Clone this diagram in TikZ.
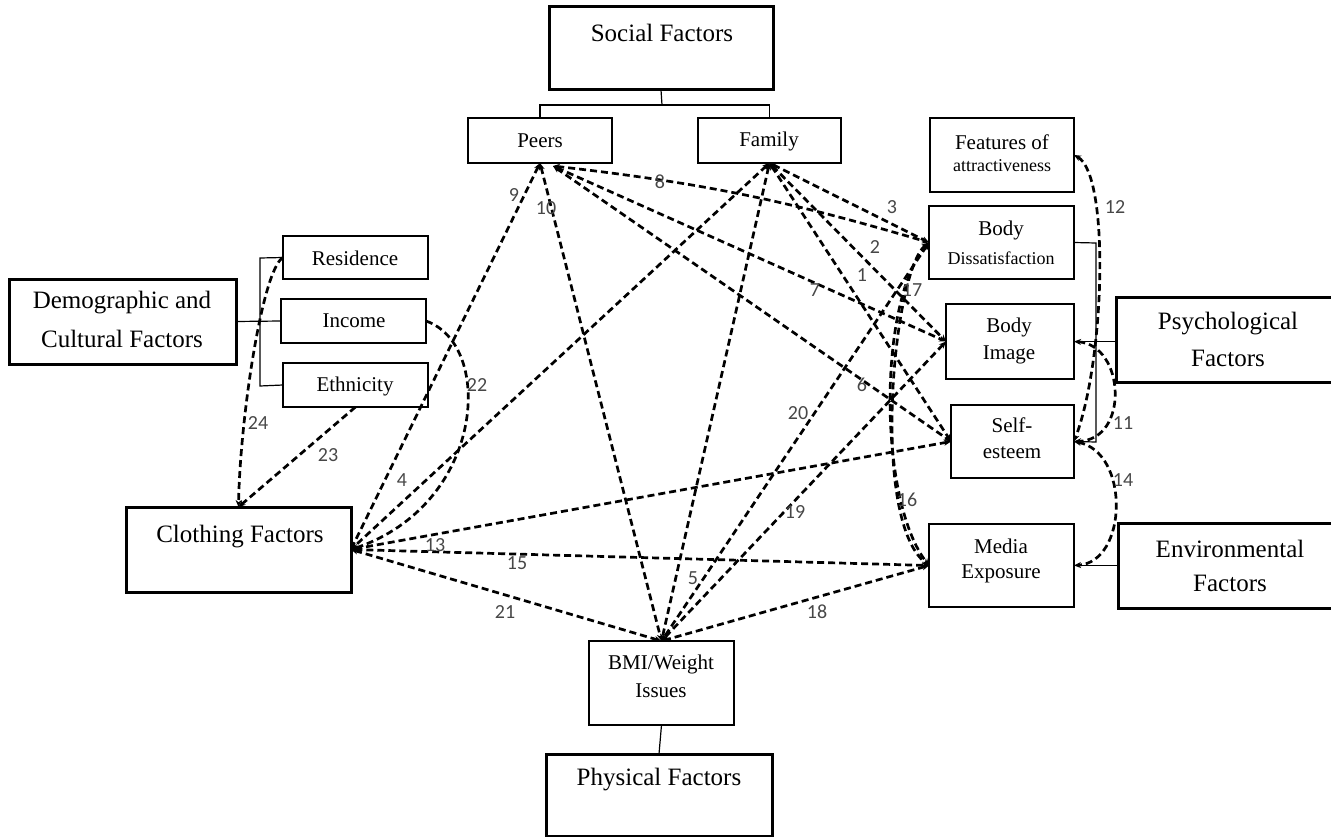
\documentclass[tikz,border=0pt]{standalone}
\usepackage{fontspec}
\setmainfont{Liberation Serif}
\newfontfamily\numfont{Carlito}
\usetikzlibrary{arrows.meta}
\definecolor{numgray}{gray}{0.28}
\begin{document}
\begin{tikzpicture}[x=1pt,y=-1pt,
  box/.style={draw, line width=1.2pt, anchor=north west, inner sep=0pt, outer sep=0pt},
  bigbox/.style={box, line width=3pt},
  bigtxt/.style={font=\fontsize{25}{28}\selectfont, inner sep=0pt},
  txt/.style={font=\fontsize{21}{25}\selectfont, inner sep=0pt},
  smalltxt/.style={font=\fontsize{18}{21}\selectfont, inner sep=0pt},
  link/.style={line width=1.2pt},
  rel/.style={line width=2.7pt, dash pattern=on 7pt off 4pt,
    {Stealth[length=7pt,width=6pt]}-{Stealth[length=7pt,width=6pt]}},
  relto/.style={line width=2.7pt, dash pattern=on 7pt off 4pt,
    -{Stealth[length=7pt,width=6pt]}},
  num/.style={font=\numfont\fontsize{20}{20}\selectfont, text=numgray, inner sep=0pt}
]
\useasboundingbox (0,0) rectangle (1331,837);
\clip (0,0) rectangle (1331,837);

% ---------- boxes ----------
\node[bigbox, minimum width=224pt, minimum height=83pt] (social) at (549,7) {};
\node[box, minimum width=144pt, minimum height=45pt] (peers) at (468,118) {};
\node[box, minimum width=143pt, minimum height=45pt] (family) at (698,118) {};

\node[bigbox, minimum width=227pt, minimum height=85pt] (demo) at (9,279) {};
\node[box, minimum width=145pt, minimum height=43pt] (residence) at (283,236) {};
\node[box, minimum width=145pt, minimum height=44pt] (income) at (281,299) {};
\node[box, minimum width=145pt, minimum height=44pt] (ethnicity) at (283,363) {};

\node[bigbox, minimum width=225pt, minimum height=85pt] (clothing) at (126,507) {};

\node[box, minimum width=145pt, minimum height=84pt] (bmi) at (589,641) {};
\node[bigbox, minimum width=226pt, minimum height=82pt] (physical) at (546,754) {};

\node[box, minimum width=144pt, minimum height=74pt] (features) at (930,118) {};
\node[box, minimum width=145pt, minimum height=73pt] (bd) at (929,206) {};
\node[box, minimum width=128pt, minimum height=75pt] (bi) at (946,304) {};
\node[box, minimum width=123pt, minimum height=73pt] (se) at (951,405) {};
\node[box, minimum width=145pt, minimum height=83pt] (media) at (929,524) {};

\node[bigbox, minimum width=240pt, minimum height=85pt] (psych) at (1116,297) {};
\node[bigbox, minimum width=240pt, minimum height=85pt] (env) at (1118,523) {};

% ---------- box texts ----------
\node[bigtxt] (socialT) at (662,33) {Social Factors};
\node[txt] (peersT) at (540,141) {Peers};
\node[txt] (familyT) at (769,141) {Family};
\node[bigtxt] (demoT1) at (122,303) {Demographic and};
\node[bigtxt] (demoT2) at (122,339) {Cultural Factors};
\node[txt] (residenceT) at (355,258) {Residence};
\node[txt] (incomeT) at (354,321) {Income};
\node[txt] (ethnicityT) at (355,386) {Ethnicity};
\node[bigtxt] (clothingT) at (240,537) {Clothing Factors};
\node[txt] (bmiT1) at (661,664) {BMI/Weight};
\node[txt] (bmiT2) at (661,691) {Issues};
\node[bigtxt] (physicalT) at (659,780) {Physical Factors};
\node[txt] (featuresT1) at (1002,142) {Features of};
\node[smalltxt] (featuresT2) at (1002,166) {attractiveness};
\node[txt] (bdT1) at (1001,230) {Body};
\node[smalltxt] (bdT2) at (1001,258) {Dissatisfaction};
\node[txt] (biT1) at (1009,327) {Body};
\node[txt] (biT2) at (1009,355) {Image};
\node[txt] (seT1) at (1012,425) {Self-};
\node[txt] (seT2) at (1012,453) {esteem};
\node[txt] (mediaT1) at (1001,546) {Media};
\node[txt] (mediaT2) at (1001,574) {Exposure};
\node[bigtxt] (psychT1) at (1228,324) {Psychological};
\node[bigtxt] (psychT2) at (1228,358) {Factors};
\node[bigtxt] (envT1) at (1230,549) {Environmental};
\node[bigtxt] (envT2) at (1230,583) {Factors};

% ---------- solid group connectors ----------
\draw[link] (social.south) -- (662,105);
\draw[link] (peers.north) |- (662,105) -| (family.north);
\draw[link] (demo.east) -- (income.west);
\draw[link] (residence.west) -- (260,258) -- (260,386) -- (ethnicity.west);
\draw[link] (bd.east) -- (1096,243) -- (1096,442) -- (se.east);
\draw[link] (bi.east) -- (psych.west |- bi.east);
\draw[link] (media.east) -- (env.west |- media.east);
\draw[link] (bmi.south) -- (physical.north);

% ---------- connector ports ----------
\coordinate (pA) at (peers.south);
\coordinate (pB) at ([shift={(13,3)}]peers.south);
\coordinate (fA) at (family.south);

% ---------- relationships ----------
\draw[rel] (fA) -- (se.west);          % 1
\draw[rel] (fA) -- (bi.west);          % 2
\draw[rel] (fA) -- (bd.west);          % 3
\draw[rel] (fA) -- (clothing.east);    % 4
\draw[rel] (fA) -- (bmi.north);        % 5
\draw[rel] (pB) -- (se.west);          % 6
\draw[rel] (pB) -- (bi.west);          % 7
\draw[rel] (pB) to[bend left=5] (bd.west); % 8
\draw[rel] (pA) -- (clothing.east);    % 9
\draw[rel] (pA) -- (bmi.north);        % 10
\draw[rel] (bi.east) .. controls (1125,345) and (1130,440) .. (se.east); % 11
\draw[rel] (features.east) .. controls (1110,175) and (1105,360) .. (se.east); % 12
\draw[rel] (clothing.east) -- (se.west);   % 13
\draw[rel] (se.east) .. controls (1130,452) and (1128,562) .. (media.east); % 14
\draw[rel] (clothing.east) -- (media.west); % 15
\draw[rel] (bd.west) .. controls (878,300) and (878,500) .. (media.west); % 16
\draw[rel] (bd.west) .. controls (893,270) and (870,520) .. (media.west); % 17
\draw[rel] (media.west) -- (bmi.north);    % 18
\draw[rel] (bi.west) -- (bmi.north);       % 19
\draw[rel] (bd.west) -- (bmi.north);       % 20
\draw[rel] (clothing.east) -- (bmi.north); % 21
\draw[relto] (income.east) .. controls (495,345) and (485,505) .. (clothing.east); % 22
\draw[relto] (ethnicity.south) -- (clothing.north); % 23
\draw[relto] (residence.west) .. controls (262,270) and (240,420) .. (clothing.north); % 24

% ---------- relationship numbers ----------
\node[num] (n1) at (862,275) {1};
\node[num] (n2) at (875,247) {2};
\node[num] (n3) at (892,207) {3};
\node[num] (n4) at (402,480) {4};
\node[num] (n5) at (693,578) {5};
\node[num] (n6) at (862,385) {6};
\node[num] (n7) at (815,290) {7};
\node[num] (n8) at (660,182) {8};
\node[num] (n9) at (514,195) {9};
\node[num] (n10) at (546,208) {10};
\node[num] (n11) at (1123,423) {11};
\node[num] (n12) at (1115,207) {12};
\node[num] (n13) at (435,545) {13};
\node[num] (n14) at (1123,480) {14};
\node[num] (n15) at (517,563) {15};
\node[num] (n16) at (907,500) {16};
\node[num] (n17) at (912,290) {17};
\node[num] (n18) at (817,612) {18};
\node[num] (n19) at (795,512) {19};
\node[num] (n20) at (798,413) {20};
\node[num] (n21) at (505,612) {21};
\node[num] (n22) at (477,385) {22};
\node[num] (n23) at (328,455) {23};
\node[num] (n24) at (258,423) {24};
\end{tikzpicture}
\end{document}
